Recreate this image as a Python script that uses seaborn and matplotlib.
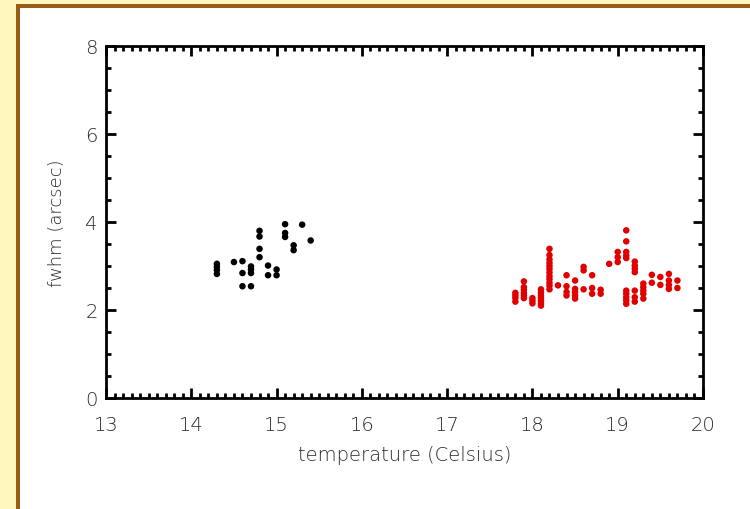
import matplotlib
matplotlib.use("Agg")
import matplotlib.pyplot as plt
from matplotlib.patches import Rectangle
from matplotlib.ticker import MultipleLocator
import numpy as np
import pandas as pd
import seaborn as sns

# First run (black): temperature in Celsius, fwhm in arcsec
temp_a = [14.30, 14.30, 14.30, 14.30, 14.50,
          14.60, 14.60, 14.60,
          14.70, 14.70, 14.70, 14.70,
          14.80, 14.80, 14.80, 14.80,
          14.90, 14.90, 15.00, 15.00,
          15.10, 15.10, 15.10, 15.20, 15.20, 15.30, 15.40]
fwhm_a = [3.05, 2.98, 2.91, 2.82, 3.09,
          3.11, 2.84, 2.54,
          2.99, 2.92, 2.84, 2.54,
          3.80, 3.67, 3.39, 3.20,
          3.01, 2.79, 2.92, 2.79,
          3.95, 3.75, 3.66, 3.47, 3.36, 3.94, 3.58]

# Second run (red)
temp_b = [17.80, 17.80, 17.80, 17.80,
          17.90, 17.90, 17.90, 17.90, 17.90, 17.90,
          18.00, 18.00, 18.00,
          18.10, 18.10, 18.10, 18.10, 18.10, 18.10, 18.10,
          18.20, 18.20, 18.20, 18.20, 18.20, 18.20, 18.20, 18.20, 18.20, 18.20, 18.20, 18.20,
          18.30,
          18.40, 18.40, 18.40, 18.40,
          18.50, 18.50, 18.50, 18.50, 18.50,
          18.60, 18.60, 18.60,
          18.70, 18.70, 18.70,
          18.80, 18.80,
          18.90,
          19.00, 19.00, 19.00,
          19.10, 19.10, 19.10, 19.10, 19.10, 19.10, 19.10, 19.10, 19.10, 19.10,
          19.20, 19.20, 19.20, 19.20, 19.20, 19.20, 19.20,
          19.30, 19.30, 19.30, 19.30, 19.30,
          19.40, 19.40,
          19.50, 19.50,
          19.60, 19.60, 19.60, 19.60,
          19.70, 19.70]
fwhm_b = [2.39, 2.33, 2.27, 2.19,
          2.65, 2.52, 2.46, 2.39, 2.33, 2.27,
          2.27, 2.21, 2.15,
          2.47, 2.39, 2.33, 2.27, 2.21, 2.15, 2.10,
          3.39, 3.25, 3.15, 3.07, 3.00, 2.93, 2.85, 2.77, 2.70, 2.62, 2.55, 2.47,
          2.56,
          2.79, 2.54, 2.41, 2.33,
          2.67, 2.48, 2.41, 2.33, 2.26,
          2.98, 2.90, 2.47,
          2.79, 2.50, 2.37,
          2.46, 2.37,
          3.05,
          3.32, 3.20, 3.09,
          3.81, 3.56, 3.32, 3.24, 3.18, 2.44, 2.37, 2.29, 2.22, 2.14,
          3.10, 3.01, 2.94, 2.86, 2.44, 2.29, 2.19,
          2.60, 2.52, 2.44, 2.37, 2.26,
          2.80, 2.62,
          2.75, 2.57,
          2.82, 2.67, 2.57, 2.48,
          2.67, 2.50]

x_ticks = [13, 14, 15, 16, 17, 18, 19, 20]
y_ticks = [0, 2, 4, 6, 8]

df = pd.DataFrame({
    "temperature": temp_a + temp_b,
    "fwhm": fwhm_a + fwhm_b,
    "run": ["a"] * len(temp_a) + ["b"] * len(temp_b),
})

sns.set_style("white")
plt.rcParams["font.family"] = ["DejaVu Sans"]

fig = plt.figure(figsize=(7.5, 5.1), dpi=100)
W, H = 750, 510

# page surround: pale yellow margin with a brown rule, white panel
fig.patches.append(Rectangle((0, 0), 1, 1, transform=fig.transFigure,
                             facecolor="#fff7bd", edgecolor="none", zorder=-3))
fig.patches.append(Rectangle((16 / W, 0), 1, 1 - 5 / H, transform=fig.transFigure,
                             facecolor="#9a5c14", edgecolor="none", zorder=-2))
fig.patches.append(Rectangle((20 / W, 0), 1, 1 - 9 / H, transform=fig.transFigure,
                             facecolor="white", edgecolor="none", zorder=-1))

ax = fig.add_axes([106 / W, 1 - 399 / H, (703 - 106) / W, (399 - 47) / H])
ax.set_facecolor("white")

sns.scatterplot(data=df, x="temperature", y="fwhm", hue="run",
                palette={"a": "black", "b": "#e00000"},
                s=22, linewidth=0, legend=False, ax=ax)

ax.set_xlim(13, 20)
ax.set_ylim(0, 8)
ax.set_xticks(x_ticks)
ax.set_yticks(y_ticks)
ax.xaxis.set_minor_locator(MultipleLocator(0.1))
ax.yaxis.set_minor_locator(MultipleLocator(0.5))

for sp in ax.spines.values():
    sp.set_visible(True)
    sp.set_linewidth(2.0)
    sp.set_color("black")

text_color = "#2a2a2a"
ax.tick_params(which="both", direction="in", top=True, right=True,
               bottom=True, left=True, color="black", width=2.0,
               labelsize=14, labelcolor=text_color)
ax.tick_params(which="major", length=7)
ax.tick_params(which="minor", length=3.5)
ax.tick_params(axis="x", which="major", pad=12)
ax.tick_params(axis="y", which="major", pad=6)

ax.set_xlabel("temperature (Celsius)", fontsize=14, color=text_color,
              fontweight="light", labelpad=8)
ax.set_ylabel("fwhm (arcsec)", fontsize=13, color=text_color,
              fontweight="light", labelpad=14)
for lab in ax.get_xticklabels() + ax.get_yticklabels():
    lab.set_fontweight("light")

fig.savefig("out.png", dpi=100)
